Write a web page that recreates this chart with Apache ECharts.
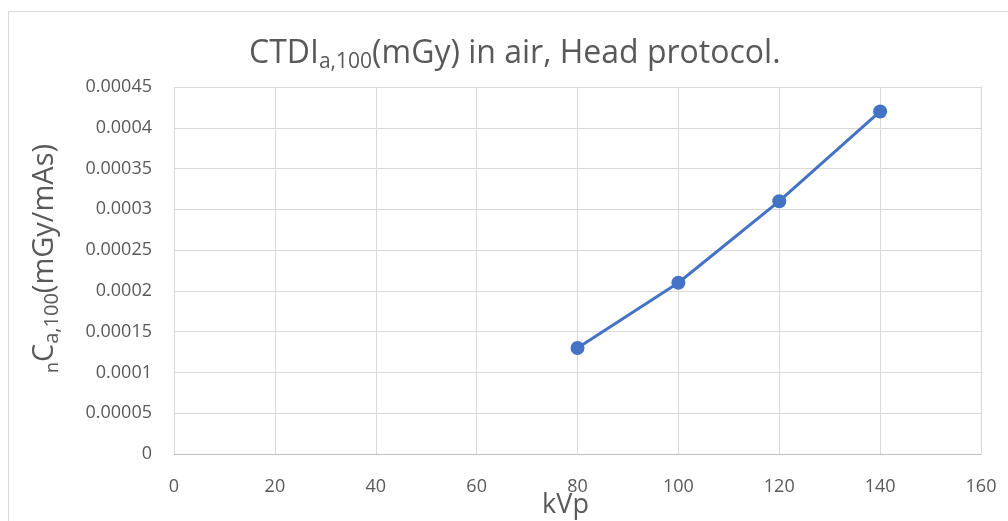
<!DOCTYPE html>
<html>
<head>
<meta charset="utf-8">
<script src="https://cdn.jsdelivr.net/npm/echarts@6/dist/echarts.min.js"></script>
<style>
  html, body { margin: 0; padding: 0; background: #fff; }
  #chart { width: 1008px; height: 521px; }
</style>
</head>
<body>
<div id="chart"></div>
<script>
'use strict'
var kvp = [80, 100, 120, 140];
var dose = [0.00013, 0.00021, 0.00031, 0.00042];
var xTicks = [0, 20, 40, 60, 80, 100, 120, 140, 160];
var yTicks = [0, 0.00005, 0.0001, 0.00015, 0.0002, 0.00025, 0.0003, 0.00035, 0.0004, 0.00045];

var chart = echarts.init(document.getElementById('chart'));
var font = '"Open Sans", "Noto Sans", sans-serif';
var option = {
    backgroundColor: '#fff',
    textStyle: { fontFamily: font },
    graphic: [{
        type: 'rect',
        shape: { x: 8.5, y: 11.5, width: 1100, height: 600 },
        style: { fill: 'none', stroke: '#d9d9d9', lineWidth: 1 },
        silent: true
    }],
    title: {
        text: 'CTDI{sub|a,100}(mGy) in air, Head protocol.',
        left: 244,
        top: 29,
        textStyle: {
            fontFamily: font,
            fontWeight: 'normal',
            fontSize: 32,
            color: '#595959',
            lineHeight: 39,
            rich: {
                sub: { fontSize: 21, color: '#595959', fontFamily: font, padding: [17, 0, 0, 0] }
            }
        }
    },
    grid: { left: 174, right: 27, top: 87, bottom: 67, containLabel: false, outerBoundsMode: 'none' },
    xAxis: {
        type: 'value',
        min: 0, max: 160, interval: 20,
        name: 'kVp',
        nameLocation: 'middle',
        nameGap: 38,
        nameMoveOverlap: false,
        nameTextStyle: { fontSize: 27, color: '#595959', fontFamily: font, padding: [0, 24, 0, 0] },
        axisLine: { show: true, lineStyle: { color: '#bfbfbf', width: 1 } },
        axisTick: { show: false },
        axisLabel: { color: '#595959', fontSize: 18, margin: 24,
            formatter: function (v) { return xTicks.indexOf(v) >= 0 ? String(v) : ''; } },
        splitLine: { show: true, lineStyle: { color: '#d9d9d9', width: 1 } }
    },
    yAxis: {
        type: 'value',
        min: 0, max: 0.00045, interval: 0.00005,
        name: '{sub|n}C{sub2|a,100}(mGy/mAs)',
        nameLocation: 'middle',
        nameRotate: 90,
        nameGap: 112,
        nameMoveOverlap: false,
        nameTextStyle: {
            fontSize: 29, color: '#595959', fontFamily: font, lineHeight: 35,
            padding: [0, 0, 0, 24],
            rich: {
                sub: { fontSize: 18, color: '#595959', fontFamily: font, padding: [16, 0, 0, 0] },
                sub2: { fontSize: 20, color: '#595959', fontFamily: font, padding: [16, 0, 0, 0] }
            }
        },
        axisLine: { show: false },
        axisTick: { show: false },
        axisLabel: { color: '#595959', fontSize: 18, margin: 22,
            formatter: function (v) {
                var r = +v.toFixed(5);
                return r === 0 ? '0' : String(r);
            } },
        splitLine: { show: true, lineStyle: { color: '#d9d9d9', width: 1 } }
    },
    series: [{
        type: 'line',
        data: kvp.map(function (k, i) { return [k, dose[i]]; }),
        symbol: 'circle',
        symbolSize: 14,
        lineStyle: { color: '#4472C4', width: 3 },
        itemStyle: { color: '#4472C4' },
        animation: false
    }]
};
chart.setOption(option);
</script>
</body>
</html>
